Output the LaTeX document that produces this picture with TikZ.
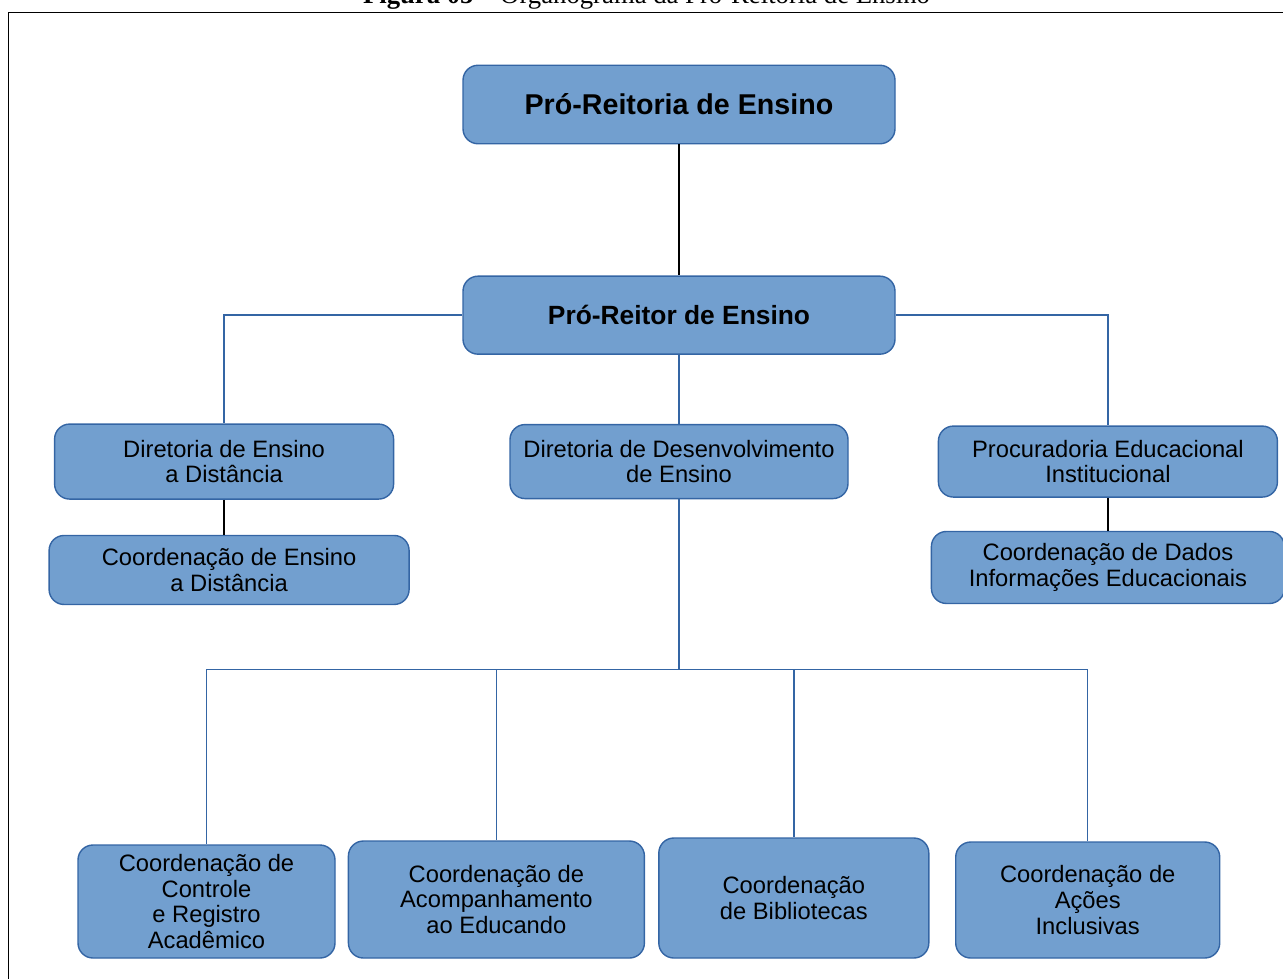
\documentclass[tikz,border=0pt]{standalone}
\usepackage{fontspec}
\setmainfont{Liberation Sans}
\newfontfamily\capfont{Liberation Serif}
\usetikzlibrary{positioning}
\definecolor{boxfill}{HTML}{729FCF}
\definecolor{boxline}{HTML}{3465A4}

\begin{document}
\begin{tikzpicture}[node distance=1cm,
  main node/.style={draw=boxline, fill=boxfill, line width=0.8pt, rounded corners=0.3cm,
    align=center, inner sep=2pt, font=\fontsize{13.5}{14.6}\selectfont},
  head node/.style={main node, minimum width=8.64cm, minimum height=1.57cm,
    font=\fontsize{15}{17}\selectfont\bfseries},
  blue link/.style={draw=boxline, line width=0.8pt},
  black link/.style={draw=black, line width=0.8pt}]
\useasboundingbox (0,0) rectangle (25.66,-19.56);

% caption and frame
\node[font=\capfont\fontsize{15.2}{17}\selectfont, anchor=base] (cap) at (12.93,-0.06)
  {\textbf{Figura 05} – Organograma da Pró-Reitoria de Ensino};
\draw[line width=1pt] (0.17,-0.25) rectangle (26.2,-20.2);

% top levels
\node[head node, font=\fontsize{16.3}{18}\selectfont\bfseries] (prt) at (13.58,-2.09) {Pró-Reitoria de Ensino};
\node[head node, minimum height=1.56cm, below=2.62cm of prt]      (pr) {Pró-Reitor de Ensino};

% directorates
\node[main node, minimum width=6.76cm, minimum height=1.48cm, below=1.38cm of pr]  (dde)  {Diretoria de Desenvolvimento\\de Ensino};
\node[main node, minimum width=6.78cm, minimum height=1.5cm, left=2.3cm of dde]    (ead)  {Diretoria de Ensino\\a Distância};
\node[main node, minimum width=6.78cm, minimum height=1.42cm, right=1.78cm of dde] (pei)  {Procuradoria Educacional\\Institucional};
\node[main node, minimum width=7.2cm, minimum height=1.38cm, below=0.7cm of ead, xshift=0.1cm] (cead) {Coordenação de Ensino\\a Distância};
\node[main node, minimum width=7.06cm, minimum height=1.44cm, below=0.66cm of pei] (cdie) {Coordenação de Dados\\Informações Educacionais};

% coordinations
\node[main node, minimum width=5.14cm, minimum height=2.26cm] (ccra) at (4.13,-18.03)
  {Coordenação de\\Controle\\e Registro\\Acadêmico};
\node[main node, minimum width=5.92cm, minimum height=2.34cm, anchor=south west] (cae) at ([xshift=0.24cm]ccra.south east)
  {Coordenação de\\Acompanhamento\\ao Educando};
\node[main node, minimum width=5.40cm, minimum height=2.40cm, anchor=south west] (cb) at ([xshift=0.26cm]cae.south east)
  {Coordenação\\de Bibliotecas};
\node[main node, minimum width=5.28cm, minimum height=2.32cm, anchor=south west] (cai) at ([xshift=0.51cm]cb.south east)
  {Coordenação de\\Ações\\Inclusivas};

\coordinate[below=3.4cm of dde.south] (bus);

\path[black link]
(prt) edge (pr)
(pei) edge (cdie);
\draw[black link] (ead) -- (ead |- cead.north);

\draw[blue link] (pr.west) -| (ead.north);
\draw[blue link] (pr.east) -| (pei.north);
\draw[blue link] (pr) -- (dde);
\draw[blue link] (dde) -- (bus);
\foreach \n in {ccra,cae,cb,cai}
  \draw[blue link] (bus) -| (\n.north);
\end{tikzpicture}
\end{document}
